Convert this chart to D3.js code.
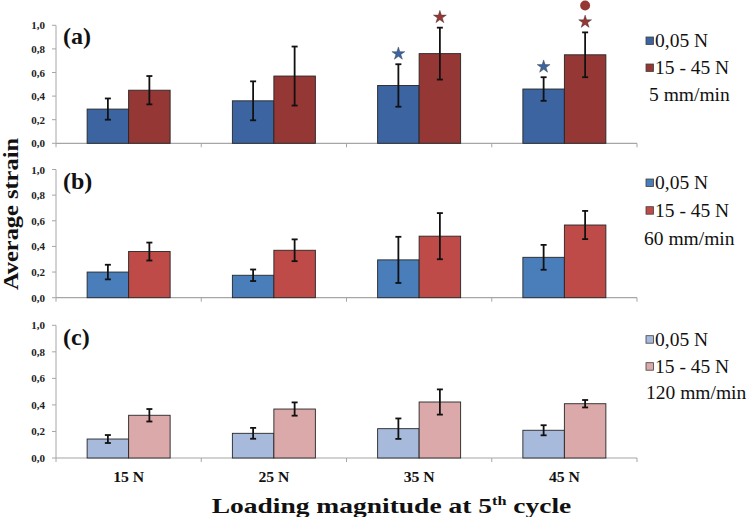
<!DOCTYPE html>
<html><head><meta charset="utf-8">
<script src="https://cdn.jsdelivr.net/npm/d3@7"></script>
<style>body{margin:0;background:#fff}svg{display:block}</style>
</head><body>
<svg id="c" width="750" height="517"></svg>
<script>
const categories = ["15 N", "25 N", "35 N", "45 N"];
const seriesNames = ["0,05 N", "15 - 45 N"];
const speeds = ["5 mm/min", "60 mm/min", "120 mm/min"];
const panelLabels = ["(a)", "(b)", "(c)"];
const yTicks = [0, 0.2, 0.4, 0.6, 0.8, 1.0];

const aLow = [0.29, 0.36, 0.49, 0.46];
const aLowErr = [0.09, 0.165, 0.18, 0.10];
const aHigh = [0.45, 0.57, 0.76, 0.75];
const aHighErr = [0.12, 0.25, 0.22, 0.19];

const bLow = [0.20, 0.175, 0.295, 0.315];
const bLowErr = [0.057, 0.045, 0.18, 0.097];
const bHigh = [0.36, 0.37, 0.48, 0.567];
const bHighErr = [0.07, 0.085, 0.18, 0.11];

const cLow = [0.143, 0.186, 0.221, 0.209];
const cLowErr = [0.03, 0.041, 0.077, 0.038];
const cHigh = [0.322, 0.369, 0.422, 0.409];
const cHighErr = [0.047, 0.05, 0.095, 0.028];

// significance markers in panel (a): [category index, series index, symbols stacked upward]
const aMarkers = [[2, 0, ["star"]], [2, 1, ["star"]], [3, 0, ["star"]], [3, 1, ["star", "circle"]]];

const panelColors = [["#3b64a0", "#953735"], ["#4a7ebb", "#be4b48"], ["#a8badb", "#dba9a9"]];
const panelData = [
  [[aLow, aLowErr], [aHigh, aHighErr]],
  [[bLow, bLowErr], [bHigh, bHighErr]],
  [[cLow, cLowErr], [cHigh, cHighErr]]
];
const panelY = [[143.3, 25.3], [297.7, 169.5], [458, 325.3]];
const legendBase = [[47, 74, 101], [189, 216.7, 245], [345.7, 372.7, 399]];

const svg = d3.select("#c");
const serif = "'Liberation Serif','Times New Roman',serif";
const x0 = 56, x1 = 637;
const xBand = d3.scaleBand().domain(categories).range([x0, x1]).padding(0);
const barW = 41.5;

panelData.forEach((pd, p) => {
  const y = d3.scaleLinear().domain([0, 1]).range(panelY[p]);
  const g = svg.append("g");
  const xSub = d3.scaleBand().domain(seriesNames).range([-barW, barW]).padding(0);

  // y axis
  g.append("line").attr("x1", x0).attr("x2", x0).attr("y1", y(1)).attr("y2", y(0))
    .attr("stroke", "#a6a6a6").attr("stroke-width", 1);
  yTicks.forEach(t => {
    g.append("line").attr("x1", x0 - 4).attr("x2", x0).attr("y1", y(t)).attr("y2", y(t))
      .attr("stroke", "#a6a6a6");
    g.append("text").attr("x", 45).attr("y", y(t) + 4).attr("text-anchor", "end")
      .attr("font-family", serif).attr("font-weight", "bold").attr("font-size", 11)
      .attr("fill", "#222").text(d3.format(".1f")(t).replace(".", ","));
  });
  // x axis
  g.append("line").attr("x1", x0).attr("x2", x1).attr("y1", y(0)).attr("y2", y(0))
    .attr("stroke", "#a6a6a6").attr("stroke-width", 1.2);
  [...categories.map(c => xBand(c)), x1].forEach(xv => {
    g.append("line").attr("x1", xv).attr("x2", xv).attr("y1", y(0)).attr("y2", y(0) + 4)
      .attr("stroke", "#a6a6a6");
  });

  // bars
  pd.forEach(([vals, errs], s) => {
    categories.forEach((c, i) => {
      const cx = xBand(c) + xBand.bandwidth() / 2;
      const bx = cx + xSub(seriesNames[s]);
      g.append("rect").attr("x", bx).attr("y", y(vals[i])).attr("width", xSub.bandwidth())
        .attr("height", y(0) - y(vals[i])).attr("fill", panelColors[p][s])
        .attr("stroke", "#262626").attr("stroke-width", 0.9);
    });
  });
  // error bars
  pd.forEach(([vals, errs], s) => {
    categories.forEach((c, i) => {
      const cx = xBand(c) + xBand.bandwidth() / 2;
      const ex = cx + xSub(seriesNames[s]) + xSub.bandwidth() / 2;
      const yt = y(vals[i] + errs[i]), yb = y(vals[i] - errs[i]);
      g.append("line").attr("x1", ex).attr("x2", ex).attr("y1", yt).attr("y2", yb)
        .attr("stroke", "#111").attr("stroke-width", 1.8);
      [yt, yb].forEach(yy => g.append("line").attr("x1", ex - 3).attr("x2", ex + 3)
        .attr("y1", yy).attr("y2", yy).attr("stroke", "#111").attr("stroke-width", 1.8));
    });
  });

  // panel label
  g.append("text").attr("x", 63).attr("y", [44, 189, 345][p])
    .attr("font-family", serif).attr("font-weight", "bold").attr("font-size", 24)
    .attr("fill", "#111").text(panelLabels[p]);

  // legend
  seriesNames.forEach((n, s) => {
    const bl = legendBase[p][s];
    g.append("rect").attr("x", 646).attr("y", bl - 10).attr("width", 7.5).attr("height", 7.5)
      .attr("fill", panelColors[p][s]).attr("stroke", "#404040").attr("stroke-width", 0.8);
    g.append("text").attr("x", 655).attr("y", bl).attr("font-family", serif)
      .attr("font-size", 19.5).attr("fill", "#111").text(n);
  });
  g.append("text").attr("x", [649, 644, 646][p]).attr("y", legendBase[p][2]).attr("font-family", serif)
    .attr("font-size", 19.5).attr("fill", "#111").text(speeds[p]);

  // markers
  if (p === 0) {
    aMarkers.forEach(([ci, s, syms]) => {
      const [vals, errs] = pd[s];
      const cx = xBand(categories[ci]) + xBand.bandwidth() / 2 + xSub(seriesNames[s]) + xSub.bandwidth() / 2;
      let yy = y(vals[ci] + errs[ci]) - 10.5;
      syms.forEach(sym => {
        const path = sym === "star" ? d3.symbol(d3.symbolStar, 52)() : d3.symbol(d3.symbolCircle, 78)();
        g.append("path").attr("d", path).attr("transform", `translate(${cx},${yy})`)
          .attr("fill", panelColors[0][s]).attr("stroke", sym === "star" ? "#333" : "none")
          .attr("stroke-width", 0.4);
        yy -= 16.3;
      });
    });
  }
});

// category labels
categories.forEach(c => {
  svg.append("text").attr("x", xBand(c) + xBand.bandwidth() / 2 - 15.5).attr("y", 482.3)
    .attr("font-family", serif).attr("font-weight", "bold")
    .attr("font-size", 14).attr("textLength", 31).attr("lengthAdjust", "spacingAndGlyphs")
    .attr("fill", "#111").text(c);
});

// axis titles
const xt = svg.append("text").attr("x", 211.7).attr("y", 512.7).attr("font-family", serif)
  .attr("font-weight", "bold").attr("font-size", 22).attr("fill", "#111")
  .attr("transform", "translate(211.7,0) scale(1.25,1) translate(-211.7,0)");
xt.append("tspan").text("Loading magnitude at 5");
xt.append("tspan").attr("font-size", 13).attr("dy", -8).text("th");
xt.append("tspan").attr("dy", 8).text(" cycle");

svg.append("text").attr("transform", "translate(18,214) rotate(-90)").attr("text-anchor", "middle")
  .attr("font-family", serif).attr("font-weight", "bold").attr("font-size", 21)
  .attr("textLength", 152).attr("lengthAdjust", "spacingAndGlyphs")
  .attr("fill", "#111").text("Average strain");
</script>
</body></html>
